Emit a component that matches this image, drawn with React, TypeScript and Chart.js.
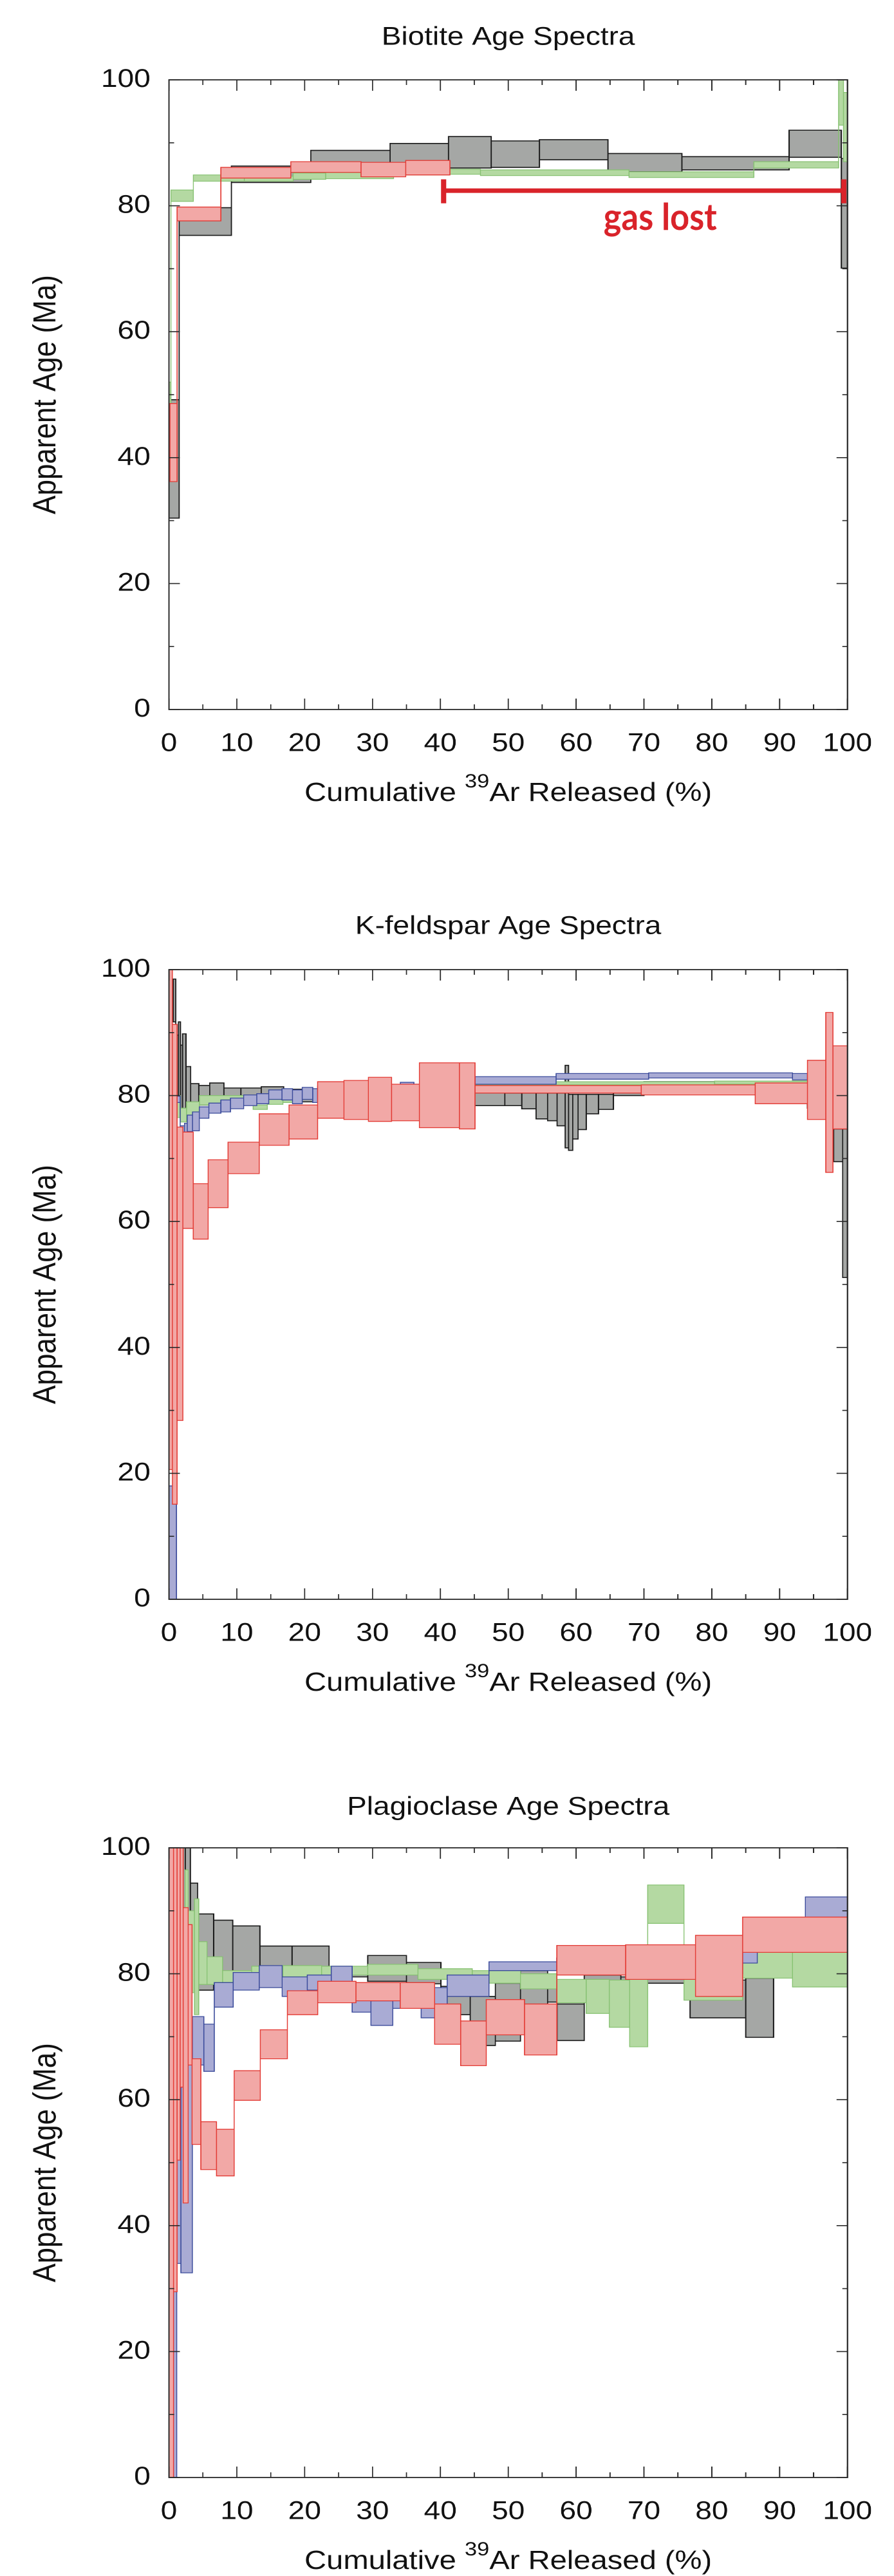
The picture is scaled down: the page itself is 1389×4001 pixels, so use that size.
import React, { useEffect, useRef } from 'react';
import { Chart, registerables } from 'chart.js';

Chart.register(...registerables);

// ---------- axis ticks and labels ----------
const xMajorTicks = [0, 10, 20, 30, 40, 50, 60, 70, 80, 90, 100];
const xMinorTicks = [5, 15, 25, 35, 45, 55, 65, 75, 85, 95];
const yMajorTicks = [0, 20, 40, 60, 80, 100];
const yMinorTicks = [10, 30, 50, 70, 90];

const panelTitles = ['Biotite Age Spectra', 'K-feldspar Age Spectra', 'Plagioclase Age Spectra'];
const yAxisTitle = 'Apparent Age (Ma)';
const xAxisTitleParts = ['Cumulative ', '39', 'Ar Released (%)'];

// each step: [start %39Ar, end %39Ar, age low (Ma), age high (Ma)]
type Step = [number, number, number, number];

// ---------- Biotite ----------
const bioGray: Step[] = [
  [0, 1.5, 30.4, 49.2], [1.5, 9.2, 75.3, 79.7], [9.2, 20.9, 83.7, 86.3], [20.9, 32.6, 84.8, 88.8],
  [32.6, 41.2, 85.3, 89.9], [41.2, 47.5, 86.0, 91.0], [47.5, 54.6, 86.1, 90.3], [54.6, 64.7, 87.3, 90.5],
  [64.7, 75.6, 85.4, 88.3], [75.6, 91.4, 85.7, 87.8], [91.4, 99.1, 87.7, 92.0], [99.1, 100, 70.1, 87.5],
];
const bioGreen: Step[] = [
  [0, 0.3, 48, 52], [0.3, 3.6, 80.7, 82.5], [3.6, 11.1, 83.9, 84.9], [11.1, 18.3, 83.9, 84.7],
  [18.3, 23.1, 84.2, 85.2], [23.1, 33.1, 84.3, 85.3], [33.1, 41.3, 84.9, 85.7], [41.3, 45.9, 85.0, 85.8],
  [45.9, 67.8, 84.8, 85.7], [67.8, 86.2, 84.5, 85.4], [86.2, 98.7, 86.0, 87.0], [98.7, 99.4, 92.8, 100],
  [99.4, 100, 87.0, 98.0],
];
const bioRed: Step[] = [
  [0.15, 1.2, 36.2, 48.6], [1.2, 7.64, 77.6, 79.8], [7.64, 17.96, 84.4, 86.1], [17.96, 28.3, 85.3, 87.0],
  [28.3, 34.9, 84.6, 86.9], [34.9, 41.4, 84.9, 87.2],
];
const gasLostRange = [40.49, 99.45];
const gasLostAges = [80.4, 82.4, 84.2]; // cap low, bar, cap high
const gasLostLabel = 'gas lost';
const gasLostLabelAt = [72.4, 76.2];

// ---------- K-feldspar ----------
const kfGray: Step[] = [
  [0.65, 1.0, 91.7, 98.5], [1.0, 1.4, 79.4, 89.6], [1.4, 1.7, 76.6, 91.7], [1.7, 2.0, 77.0, 88.0],
  [2.0, 2.5, 77.5, 89.8], [2.5, 3.2, 77.0, 84.6], [3.2, 4.4, 77.5, 81.9], [4.4, 6.0, 78.5, 81.6],
  [6.0, 8.1, 79.5, 82.0], [8.1, 10.6, 78.8, 81.2], [10.6, 13.6, 79.0, 81.2], [13.6, 16.9, 79.4, 81.4],
  [16.9, 19.6, 79.3, 81.0], [19.6, 21.9, 79.0, 80.8], [21.9, 30.0, 79.5, 81.0], [30.0, 37.0, 79.5, 81.0],
  [37.0, 44.9, 79.8, 80.8], [44.9, 49.5, 78.4, 80.8], [49.5, 52.0, 78.4, 80.4], [52.0, 54.1, 77.9, 80.4],
  [54.1, 55.8, 76.3, 80.4], [55.8, 57.2, 76.0, 80.4], [57.2, 58.4, 75.2, 80.4], [58.4, 58.9, 71.7, 84.8],
  [58.9, 59.5, 71.3, 80.2], [59.5, 60.3, 73.1, 80.2], [60.3, 61.5, 74.6, 80.2], [61.5, 63.3, 77.1, 80.2],
  [63.3, 65.5, 77.8, 80.2], [65.5, 70.0, 80.0, 80.6], [70.0, 91.9, 81.5, 82.2], [91.9, 94.1, 81.6, 82.3],
  [94.1, 97.95, 78.0, 82.0], [97.95, 99.3, 69.5, 74.7], [99.3, 100, 51.1, 74.7],
];
const kfBlue: Step[] = [
  [0, 1.1, 0, 18], [1.1, 1.65, 78.9, 79.9], [1.65, 2.28, 74.0, 75.2], [2.28, 2.7, 74.2, 75.6],
  [2.7, 3.48, 74.3, 76.9], [3.48, 4.47, 74.4, 77.4], [4.47, 5.88, 76.4, 78.2], [5.88, 7.64, 77.2, 78.8],
  [7.64, 9.06, 77.4, 79.3], [9.06, 11.0, 77.9, 79.6], [11.0, 12.94, 78.4, 80.1], [12.94, 14.7, 78.7, 80.3],
  [14.7, 16.65, 79.4, 80.9], [16.65, 18.2, 79.3, 81.1], [18.2, 19.65, 78.7, 80.9], [19.65, 21.2, 79.4, 81.3],
  [21.2, 21.9, 78.9, 81.1], [21.9, 34.1, 80.0, 81.5], [34.1, 36.1, 80.8, 82.1], [36.1, 45.1, 80.5, 81.8],
  [45.1, 57.05, 81.8, 83.0], [57.05, 70.7, 82.6, 83.5], [70.7, 91.9, 82.8, 83.6], [91.9, 94.1, 82.5, 83.5],
];
const kfGreen: Step[] = [
  [0.8, 1.7, 76.5, 80.0], [1.7, 2.6, 75.8, 78.0], [2.6, 4.5, 76.5, 79.0], [4.5, 12.4, 78.5, 80.0],
  [12.4, 14.5, 77.8, 78.5], [14.5, 16.8, 78.6, 79.6], [16.8, 18.2, 78.9, 79.3], [18.2, 30.0, 79.5, 80.5],
  [30.0, 45.0, 80.5, 81.5], [45.0, 80.4, 81.7, 82.2], [80.4, 94.2, 81.8, 82.3],
];
const kfRed: Step[] = [
  [0, 0.5, 20.6, 100], [0.5, 1.2, 15.1, 91.3], [1.2, 2.05, 28.4, 75.0], [2.05, 3.58, 58.9, 74.2],
  [3.58, 5.78, 57.2, 66.0], [5.78, 8.7, 62.2, 69.8], [8.7, 13.3, 67.6, 72.6], [13.3, 17.7, 72.1, 77.1],
  [17.7, 21.9, 73.1, 78.5], [21.9, 25.8, 76.4, 82.2], [25.8, 29.4, 76.2, 82.4], [29.4, 32.8, 75.9, 82.9],
  [32.8, 36.9, 76.0, 81.8], [36.9, 42.8, 74.9, 85.2], [42.8, 45.1, 74.7, 85.2], [45.1, 69.6, 80.4, 81.6],
  [69.6, 86.4, 80.1, 81.7], [86.4, 94.1, 78.7, 82.0], [94.1, 96.8, 76.2, 85.6], [96.8, 97.85, 67.8, 93.2],
  [97.85, 100, 74.7, 87.9],
];

// ---------- Plagioclase ----------
const plGray: Step[] = [
  [2.0, 2.4, 36.6, 100], [2.4, 3.15, 62.5, 100], [3.15, 4.22, 77.4, 94.4], [4.22, 6.59, 77.4, 89.5],
  [6.59, 9.4, 79.0, 88.5], [9.4, 13.4, 80.0, 87.6], [13.4, 18.14, 81.0, 84.4], [18.14, 23.6, 81.0, 84.4],
  [23.6, 29.3, 79.5, 81.0], [29.3, 35.0, 78.8, 82.9], [35.0, 40.08, 78.4, 81.8], [40.08, 44.4, 73.5, 78.0],
  [44.4, 48.1, 68.6, 76.4], [48.1, 51.8, 69.3, 78.5], [51.8, 55.8, 75.0, 80.5], [55.8, 57.2, 75.5, 78.5],
  [57.2, 61.2, 69.4, 75.2], [61.2, 66.6, 78.7, 79.8], [66.6, 76.8, 78.5, 79.5], [76.8, 85.0, 73.0, 79.0],
  [85.0, 89.1, 69.9, 79.3], [89.1, 100, 79.5, 82.0],
];
const plBlue: Step[] = [
  [0.5, 1.15, 0, 67.5], [1.15, 1.75, 34.0, 55.0], [1.75, 3.45, 32.5, 67.0], [3.45, 5.15, 65.5, 73.2],
  [5.15, 6.69, 64.5, 72.0], [6.69, 9.46, 74.7, 78.6], [9.46, 13.3, 77.4, 80.2], [13.3, 16.69, 77.8, 81.3],
  [16.69, 20.38, 76.4, 79.5], [20.38, 23.92, 77.4, 79.8], [23.92, 27.0, 77.5, 81.2], [27.0, 29.77, 73.9, 78.0],
  [29.77, 33.0, 71.8, 75.7], [33.0, 37.16, 74.5, 77.5], [37.16, 41.0, 73.0, 77.8], [41.0, 47.16, 76.4, 79.8],
  [47.16, 57.16, 80.5, 81.9], [57.16, 71.0, 80.5, 82.5], [71.0, 84.55, 80.0, 83.0], [84.55, 86.7, 81.7, 83.4],
  [86.7, 93.8, 84.0, 87.5], [93.8, 100, 85.0, 92.2],
];
const plGreen: Step[] = [
  [2.38, 2.84, 73.7, 96.5], [2.84, 3.76, 77.0, 90.0], [3.76, 4.4, 73.5, 91.9], [4.4, 5.6, 78.3, 85.1],
  [5.6, 7.9, 78.3, 82.7], [7.9, 12.2, 78.6, 80.5], [12.2, 16.8, 79.0, 81.2], [16.8, 22.5, 79.5, 81.3],
  [22.5, 27.0, 79.8, 81.2], [27.0, 29.3, 79.8, 81.2], [29.3, 36.7, 79.8, 81.5], [36.7, 44.7, 79.1, 80.8],
  [44.7, 47.16, 79.5, 80.5], [47.16, 51.8, 78.5, 80.5], [51.8, 57.16, 77.6, 80.0], [57.16, 61.5, 75.4, 79.1],
  [61.5, 64.9, 73.7, 79.1], [64.9, 67.9, 71.5, 79.0], [67.9, 70.55, 68.4, 79.1], [70.55, 75.9, 88.0, 94.1],
  [75.9, 84.55, 75.8, 79.1], [84.55, 91.9, 79.3, 83.4], [91.9, 100, 77.9, 83.4],
];
const plRed: Step[] = [
  [0, 0.68, 0, 100], [0.68, 1.2, 29.5, 100], [1.2, 1.65, 50.4, 100], [1.65, 2.1, 62.0, 100],
  [2.1, 2.84, 43.6, 90.5], [2.84, 3.4, 65.5, 87.8], [3.4, 4.69, 52.9, 66.5], [4.69, 7.0, 48.9, 56.5],
  [7.0, 9.61, 47.9, 55.3], [9.61, 13.46, 59.9, 64.6], [13.46, 17.46, 66.5, 71.1], [17.46, 21.92, 73.5, 77.3],
  [21.92, 27.55, 75.4, 78.8], [27.55, 34.08, 75.7, 78.6], [34.08, 39.16, 74.5, 78.6], [39.16, 43.0, 68.8, 75.2],
  [43.0, 46.76, 65.4, 72.5], [46.76, 52.4, 70.3, 75.9], [52.4, 57.16, 67.1, 75.2], [57.16, 67.3, 79.8, 84.5],
  [67.3, 77.6, 79.1, 84.6], [77.6, 84.55, 76.4, 86.1], [84.55, 100, 83.4, 89.0],
];

// ---------- styles / layout ----------
const PAGE_W = 1389;
const LW = 1208; // logical canvas width (stretched horizontally to PAGE_W)
const SX = PAGE_W / LW;
const PLOT_LEFT = 262.5 / SX;
const PLOT_RIGHT = 1345 / SX;
const FONT = '"Liberation Sans", Arial, Helvetica, sans-serif';

const STYLES: Record<string, { fill: string; line: string; width: number }> = {
  gray: { fill: '#a5a7a5', line: '#1c1c1c', width: 1.6 },
  green: { fill: '#b4d9a2', line: '#86c171', width: 1.2 },
  blue: { fill: '#a9abd4', line: '#3b4b9b', width: 1.3 },
  red: { fill: '#f2a8a6', line: '#e33b35', width: 1.3 },
};

type Pt = { x: number; y: number | null };

function stepsToPoints(steps: Step[]): Pt[] {
  const pts: Pt[] = [];
  steps.forEach(([x0, x1, lo, hi]) => {
    pts.push({ x: x0, y: lo }, { x: x0, y: hi }, { x: x1, y: hi }, { x: x1, y: lo }, { x: x0, y: lo }, { x: x0, y: null });
  });
  for (let i = 0; i < steps.length - 1; i++) {
    const a = steps[i];
    const b = steps[i + 1];
    const xb = a[1];
    pts.push({ x: xb, y: Math.min(a[2], b[2]) }, { x: xb, y: Math.max(a[3], b[3]) }, { x: xb, y: null });
  }
  return pts;
}

function stepDataset(label: string, steps: Step[], key: string) {
  const s = STYLES[key];
  return {
    label,
    data: stepsToPoints(steps),
    borderColor: s.line,
    backgroundColor: s.fill,
    borderWidth: s.width,
    fill: 'shape',
    pointRadius: 0,
    pointHoverRadius: 0,
    pointHitRadius: 0,
    spanGaps: false,
    tension: 0,
    borderJoinStyle: 'miter',
    borderCapStyle: 'square',
  };
}

function gasLostDataset() {
  const [x0, x1] = gasLostRange;
  const [lo, mid, hi] = gasLostAges;
  return {
    label: 'gas lost',
    data: [
      { x: x0, y: lo }, { x: x0, y: hi }, { x: x0, y: null },
      { x: x0, y: mid }, { x: x1, y: mid }, { x: x1, y: null },
      { x: x1, y: lo }, { x: x1, y: hi },
    ],
    borderColor: '#d9232a',
    backgroundColor: '#d9232a',
    borderWidth: 7,
    fill: false,
    pointRadius: 0,
    pointHoverRadius: 0,
    spanGaps: false,
    tension: 0,
    borderCapStyle: 'butt',
  };
}

type PanelCfg = {
  top: number;
  height: number;
  plotTop: number;
  plotBottom: number;
  titleY: number;
  title: string;
  datasets: any[];
  gasLost?: boolean;
};

const panels: PanelCfg[] = [
  {
    top: 0, height: 1333, plotTop: 124, plotBottom: 1102, titleY: 55, title: panelTitles[0], gasLost: true,
    datasets: [gasLostDataset(), stepDataset('red', bioRed, 'red'), stepDataset('green', bioGreen, 'green'), stepDataset('gray', bioGray, 'gray')],
  },
  {
    top: 1333, height: 1333, plotTop: 173, plotBottom: 1151, titleY: 103, title: panelTitles[1],
    datasets: [stepDataset('red', kfRed, 'red'), stepDataset('blue', kfBlue, 'blue'), stepDataset('green', kfGreen, 'green'), stepDataset('gray', kfGray, 'gray')],
  },
  {
    top: 2666, height: 1335, plotTop: 204, plotBottom: 1182, titleY: 138, title: panelTitles[2],
    datasets: [stepDataset('red', plRed, 'red'), stepDataset('blue', plBlue, 'blue'), stepDataset('green', plGreen, 'green'), stepDataset('gray', plGray, 'gray')],
  },
];

const framePlugin = {
  id: 'frameTicks',
  afterDatasetsDraw(chart: any) {
    const { ctx, chartArea: a, scales } = chart;
    const xs = scales.x;
    const ys = scales.y;
    ctx.save();
    ctx.strokeStyle = '#2a2a2a';
    ctx.lineWidth = 1.6;
    const tick = (x1: number, y1: number, x2: number, y2: number) => {
      ctx.beginPath();
      ctx.moveTo(x1, y1);
      ctx.lineTo(x2, y2);
      ctx.stroke();
    };
    const xMaj = 17, xMin = 8, yMaj = 17 / SX, yMin = 8 / SX;
    xMajorTicks.forEach((v) => { const p = xs.getPixelForValue(v); tick(p, a.bottom, p, a.bottom - xMaj); tick(p, a.top, p, a.top + xMaj); });
    xMinorTicks.forEach((v) => { const p = xs.getPixelForValue(v); tick(p, a.bottom, p, a.bottom - xMin); tick(p, a.top, p, a.top + xMin); });
    yMajorTicks.forEach((v) => { const p = ys.getPixelForValue(v); tick(a.left, p, a.left + yMaj, p); tick(a.right, p, a.right - yMaj, p); });
    yMinorTicks.forEach((v) => { const p = ys.getPixelForValue(v); tick(a.left, p, a.left + yMin, p); tick(a.right, p, a.right - yMin, p); });
    ctx.lineWidth = 1.8;
    ctx.strokeRect(a.left, a.top, a.right - a.left, a.bottom - a.top);
    ctx.restore();
  },
};

function textPlugin(cfg: PanelCfg) {
  return {
    id: 'spectraText',
    afterDraw(chart: any) {
      const { ctx, chartArea: a, scales } = chart;
      const cx = (a.left + a.right) / 2;
      ctx.save();
      ctx.fillStyle = '#111';
      ctx.textBaseline = 'alphabetic';
      // title
      const tf = 40;
      ctx.font = `${tf}px ${FONT}`;
      ctx.textAlign = 'center';
      ctx.fillText(cfg.title, cx, cfg.titleY + 0.358 * tf);
      // x title with superscript
      const xf = 41;
      const sf = 30;
      ctx.textAlign = 'left';
      ctx.font = `${xf}px ${FONT}`;
      const w1 = ctx.measureText(xAxisTitleParts[0]).width;
      const w3 = ctx.measureText(xAxisTitleParts[2]).width;
      ctx.font = `${sf}px ${FONT}`;
      const w2 = ctx.measureText(xAxisTitleParts[1]).width;
      const total = w1 + w2 + w3;
      const base = a.bottom + 127.5 + 0.358 * xf;
      let x = cx - total / 2;
      ctx.font = `${xf}px ${FONT}`;
      ctx.fillText(xAxisTitleParts[0], x, base);
      x += w1;
      ctx.font = `${sf}px ${FONT}`;
      ctx.fillText(xAxisTitleParts[1], x, base - 0.52 * xf);
      x += w2;
      ctx.font = `${xf}px ${FONT}`;
      ctx.fillText(xAxisTitleParts[2], x, base);
      // y title
      const yf = 44;
      ctx.save();
      ctx.translate(59, (a.top + a.bottom) / 2);
      ctx.rotate(-Math.PI / 2);
      ctx.textAlign = 'center';
      ctx.font = `${yf}px ${FONT}`;
      ctx.fillText(yAxisTitle, 0, 0.358 * yf);
      ctx.restore();
      // annotation
      if (cfg.gasLost) {
        const gx = scales.x.getPixelForValue(gasLostLabelAt[0]);
        const gy = scales.y.getPixelForValue(gasLostLabelAt[1]);
        ctx.font = `bold 57px Lato, "Open Sans", sans-serif`;
        const gw = ctx.measureText(gasLostLabel).width;
        const target = 176 / SX;
        ctx.save();
        ctx.translate(gx, gy);
        ctx.scale(target / gw, 1);
        ctx.textAlign = 'center';
        ctx.fillStyle = '#d9232a';
        ctx.fillText(gasLostLabel, 0, 0);
        ctx.restore();
      }
      ctx.restore();
    },
  };
}

function SpectraPanel({ cfg }: { cfg: PanelCfg }) {
  const ref = useRef<HTMLCanvasElement>(null);
  useEffect(() => {
    const canvas = ref.current;
    if (!canvas) return;
    canvas.width = LW;
    canvas.height = cfg.height;
    const tickFont = { family: FONT, size: 40 };
    const chart = new Chart(canvas, {
      type: 'line',
      data: { datasets: cfg.datasets as any },
      options: {
        animation: false,
        responsive: false,
        devicePixelRatio: 2,
        events: [],
        layout: { padding: { left: 0, top: cfg.plotTop, right: LW - PLOT_RIGHT, bottom: 0 } },
        plugins: { legend: { display: false }, tooltip: { enabled: false }, title: { display: false } },
        scales: {
          x: {
            type: 'linear',
            position: 'bottom',
            min: 0,
            max: 100,
            afterBuildTicks: (s: any) => { s.ticks = xMajorTicks.map((v) => ({ value: v })); },
            afterFit: (s: any) => { s.height = cfg.height - cfg.plotBottom; },
            grid: { display: false, drawTicks: false },
            border: { display: false },
            ticks: { padding: 29.5, autoSkip: false, maxRotation: 0, minRotation: 0, color: '#111', font: tickFont, callback: (v: any) => String(v) },
          },
          y: {
            type: 'linear',
            position: 'left',
            min: 0,
            max: 100,
            afterBuildTicks: (s: any) => { s.ticks = yMajorTicks.map((v) => ({ value: v })); },
            afterFit: (s: any) => { s.width = PLOT_LEFT; },
            grid: { display: false, drawTicks: false },
            border: { display: false },
            ticks: { padding: 25, autoSkip: false, color: '#111', font: tickFont, callback: (v: any) => String(v) },
          },
        },
      } as any,
      plugins: [framePlugin, textPlugin(cfg)],
    });
    return () => chart.destroy();
  }, [cfg]);
  return (
    <canvas
      ref={ref}
      width={LW}
      height={cfg.height}
      style={{ position: 'absolute', left: 0, top: cfg.top, width: `${PAGE_W}px`, height: `${cfg.height}px`, display: 'block' }}
    />
  );
}

export default function App() {
  return (
    <div style={{ position: 'absolute', left: 0, top: 0, width: PAGE_W, height: 4001, background: '#fff', overflow: 'hidden' }}>
      {panels.map((p, i) => (
        <SpectraPanel key={i} cfg={p} />
      ))}
    </div>
  );
}
